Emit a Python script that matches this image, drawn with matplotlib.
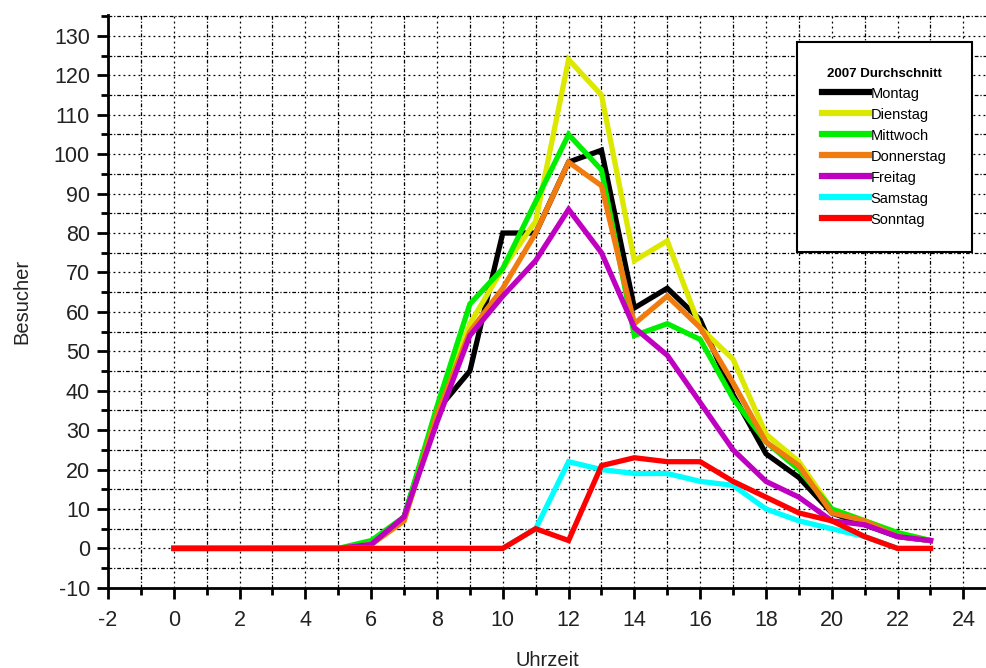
import matplotlib
matplotlib.use("Agg")
import matplotlib.pyplot as plt
from matplotlib.ticker import MultipleLocator

hours = list(range(24))
montag     = [0,0,0,0,0,0,1,8,35,45,80,80,98,101,61,66,58,39,24,18,9,6,3,2]
dienstag   = [0,0,0,0,0,0,1,7,34,57,71,83,124,115,73,78,56,48,29,22,10,7,4,2]
mittwoch   = [0,0,0,0,0,0,2,8,36,62,71,88,105,96,54,57,53,38,27,20,10,7,4,2]
donnerstag = [0,0,0,0,0,0,1,7,34,55,66,80,98,92,57,64,56,42,27,21,9,7,3,2]
freitag    = [0,0,0,0,0,0,1,8,32,54,64,73,86,75,56,49,37,25,17,13,7,6,3,2]
samstag    = [0,0,0,0,0,0,0,0,0,0,0,5,22,20,19,19,17,16,10,7,5,3,0,0]
sonntag    = [0,0,0,0,0,0,0,0,0,0,0,5,2,21,23,22,22,17,13,9,7,3,0,0]

series = [
    ("Montag", montag, "#000000"),
    ("Dienstag", dienstag, "#dde800"),
    ("Mittwoch", mittwoch, "#00ee00"),
    ("Donnerstag", donnerstag, "#f07c10"),
    ("Freitag", freitag, "#c000c0"),
    ("Samstag", samstag, "#00ffff"),
    ("Sonntag", sonntag, "#ff0000"),
]

plt.rcParams['font.family'] = ['Liberation Sans', 'DejaVu Sans']
plt.rcParams['axes.unicode_minus'] = False

fig = plt.figure(figsize=(9.87, 6.68), dpi=100)
ax = fig.add_axes([0.1094, 0.12, 0.89, 0.8575])

for name, vals, col in series:
    ax.plot(hours, vals, color=col, lw=3.8, label=name, solid_joinstyle='miter')

ax.set_xlim(-2, 24.7)
ax.set_ylim(-10, 135.3)
ax.xaxis.set_major_locator(MultipleLocator(2))
ax.xaxis.set_minor_locator(MultipleLocator(1))
ax.yaxis.set_major_locator(MultipleLocator(10))
ax.yaxis.set_minor_locator(MultipleLocator(5))

ax.grid(True, which='major', color='black', linestyle=(0, (1.5, 2.5)), linewidth=0.9)
ax.grid(True, which='minor', color='black', linestyle=(0, (3, 1.5, 1, 1.5)), linewidth=0.9)
ax.set_axisbelow(True)

for s in ['top', 'right']:
    ax.spines[s].set_visible(False)
for s in ['left', 'bottom']:
    ax.spines[s].set_linewidth(2)

ax.tick_params(which='major', direction='out', length=8, width=2, labelsize=15.5, colors='black')
ax.tick_params(which='minor', direction='out', length=5, width=2)
ax.tick_params(axis='x', pad=8)
ax.tick_params(axis='y', pad=5)
for lbl in ax.get_xticklabels() + ax.get_yticklabels():
    lbl.set_color('#222222')

ax.set_xlabel("Uhrzeit", fontsize=14.5, labelpad=14, color='#222222')
ax.set_ylabel("Besucher", fontsize=14.5, labelpad=16, color='#222222')

leg = ax.legend(loc='upper right', bbox_to_anchor=(972/987, 1 - 42/668),
                bbox_transform=fig.transFigure, borderaxespad=0,
                title="2007 Durchschnitt",
                fontsize=10.5, title_fontproperties={'weight': 'bold', 'size': 9.5},
                frameon=True, fancybox=False, edgecolor='black', framealpha=1,
                handlelength=3.2, handletextpad=0.1, labelspacing=0.48,
                borderpad=1.75)
leg.get_frame().set_linewidth(1.5)
for line in leg.get_lines():
    line.set_linewidth(4.5)

fig.savefig("out.png", dpi=100)
